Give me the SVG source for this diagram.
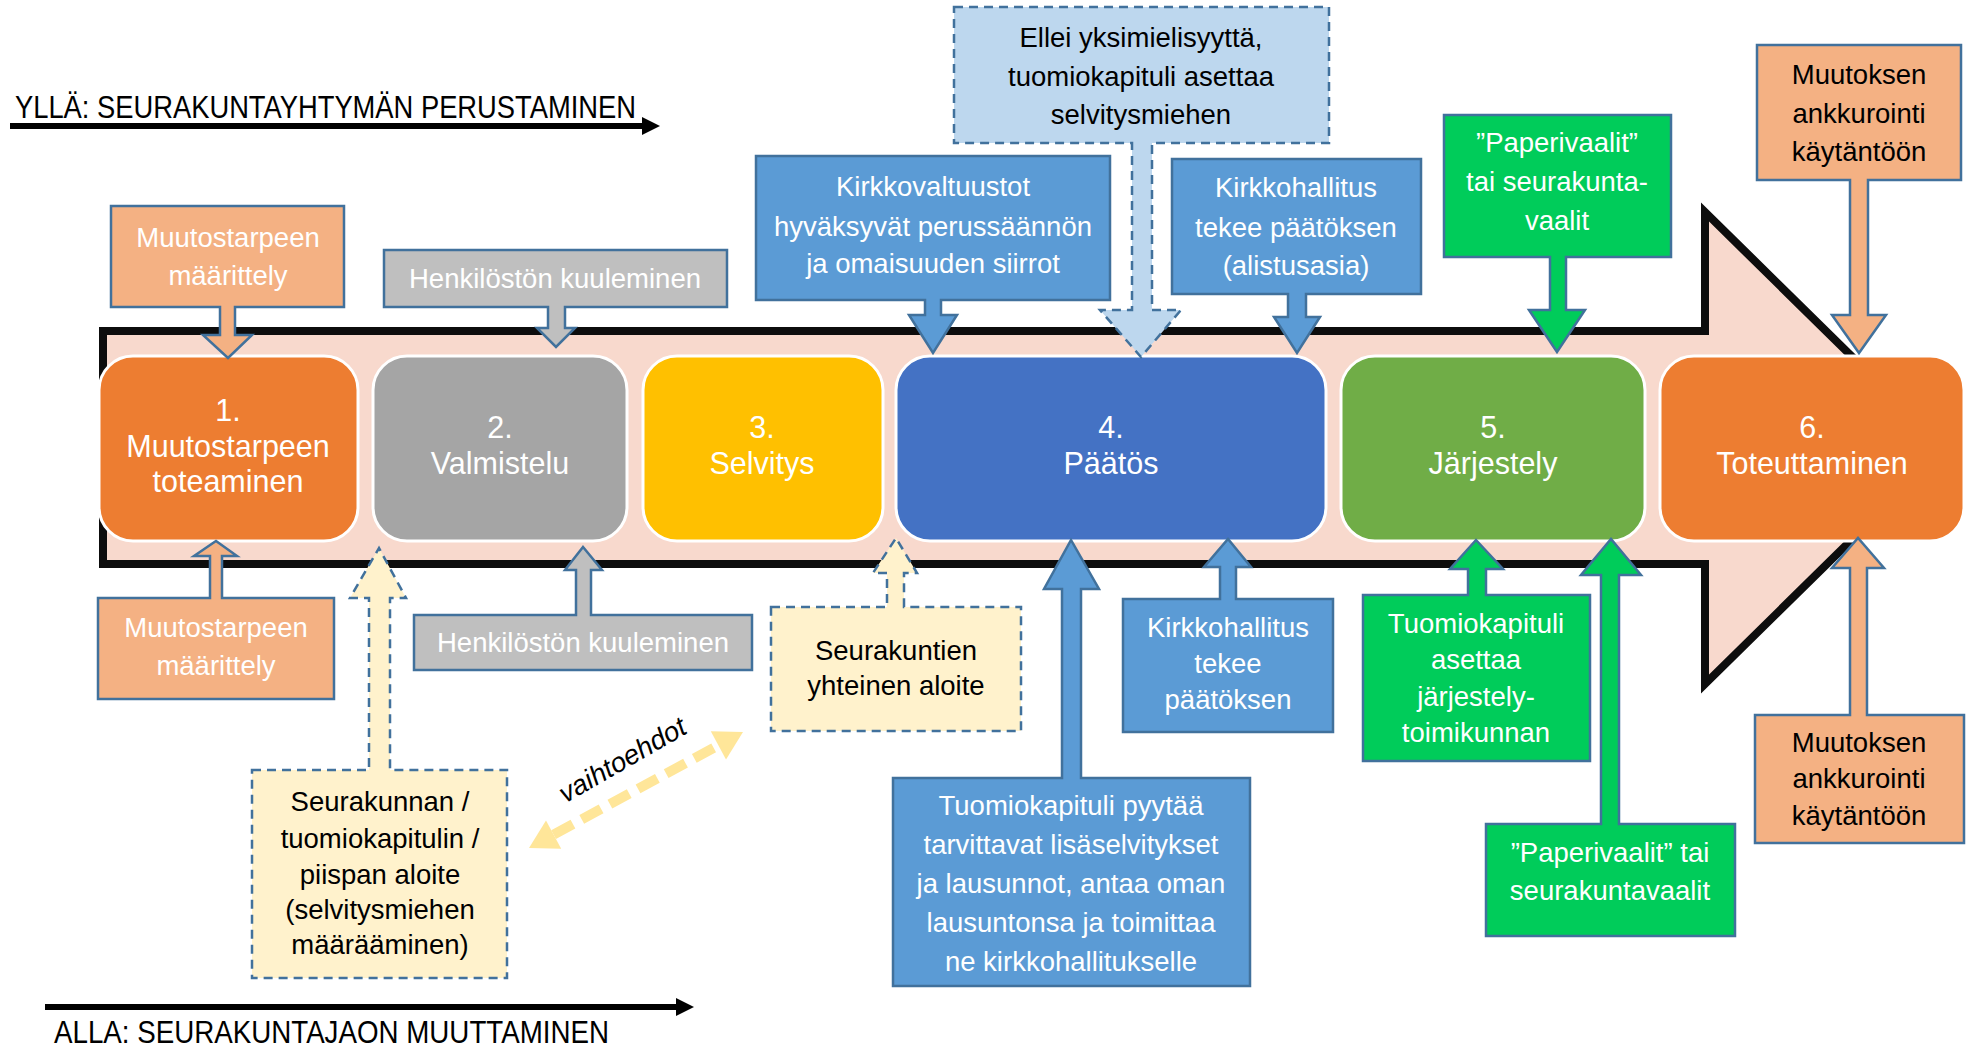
<svg xmlns="http://www.w3.org/2000/svg" width="1966" height="1050" viewBox="0 0 1966 1050">
<style>
.ph{stroke:#fff;stroke-width:3}
.co{stroke:#41719C;stroke-width:2.5}
.dsh{stroke-dasharray:9 6}
.t{font-family:"Liberation Sans",Arial,sans-serif;text-anchor:middle}
.w{fill:#fff}
.k{fill:#000}
.s{font-size:27.5px}
.p{font-size:30.5px}
.hd{font-family:"Liberation Sans",Arial,sans-serif;font-size:31px;fill:#000}
</style>
<rect width="1966" height="1050" fill="#fff"/>

<g id="process-arrow">
<path d="M103 331 H1705 V212 L1945 448 L1705 684 V564 H103 Z" fill="#F8D9CD" stroke="#0D0D0D" stroke-width="8"/>
</g>

<g id="connectors">
<line x1="10" y1="126" x2="644" y2="126" stroke="#000" stroke-width="6"/>
<polygon points="642,117 660,126 642,135" fill="#000"/>
<line x1="45" y1="1007" x2="678" y2="1007" stroke="#000" stroke-width="6"/>
<polygon points="676,998 694,1007 676,1016" fill="#000"/>
<line x1="553.6" y1="834.6" x2="718.4" y2="745.4" stroke="#FFE699" stroke-width="10" stroke-dasharray="22 10"/>
<polygon points="743,732 726,759.5 710.8,731.3" fill="#FFE699"/>
<polygon points="529,848 561.2,848.7 546,820.5" fill="#FFE699"/>
</g>

<g id="header-top"><text class="hd" x="15" y="118" textLength="621" lengthAdjust="spacingAndGlyphs">YLLÄ: SEURAKUNTAYHTYMÄN PERUSTAMINEN</text></g>
<g id="header-bottom"><text class="hd" x="54" y="1043" textLength="555" lengthAdjust="spacingAndGlyphs">ALLA: SEURAKUNTAJAON MUUTTAMINEN</text></g>
<g id="label-vaihtoehdot"><text class="t k" font-size="27.5" font-style="italic" transform="translate(627,768) rotate(-30)">vaihtoehdot</text></g>

<g id="phase1"><rect class="ph" x="99" y="356" width="259" height="185" rx="34" fill="#ED7D31"/>
<text class="t w p" x="228" y="421">1.</text><text class="t w p" x="228" y="457">Muutostarpeen</text><text class="t w p" x="228" y="492">toteaminen</text></g>
<g id="phase2"><rect class="ph" x="373" y="356" width="254" height="185" rx="34" fill="#A5A5A5"/>
<text class="t w p" x="500" y="438">2.</text><text class="t w p" x="500" y="474">Valmistelu</text></g>
<g id="phase3"><rect class="ph" x="643" y="356" width="240" height="185" rx="34" fill="#FFC000"/>
<text class="t w p" x="762" y="438">3.</text><text class="t w p" x="762" y="474">Selvitys</text></g>
<g id="phase4"><rect class="ph" x="896" y="356" width="430" height="185" rx="34" fill="#4472C4"/>
<text class="t w p" x="1111" y="438">4.</text><text class="t w p" x="1111" y="474">Päätös</text></g>
<g id="phase5"><rect class="ph" x="1341" y="356" width="304" height="185" rx="34" fill="#70AD47"/>
<text class="t w p" x="1493" y="438">5.</text><text class="t w p" x="1493" y="474">Järjestely</text></g>
<g id="phase6"><rect class="ph" x="1660" y="356" width="304" height="185" rx="34" fill="#ED7D31"/>
<text class="t w p" x="1812" y="438">6.</text><text class="t w p" x="1812" y="474">Toteuttaminen</text></g>

<g id="c-top-maarittely"><path class="co" fill="#F4B183" d="M111 206 H344 V307 H235 V335 H252 L228 358 L203 335 H220 V307 H111 Z"/>
<text class="t w s" x="228" y="247">Muutostarpeen</text><text class="t w s" x="228" y="285">määrittely</text></g>
<g id="c-top-kuuleminen"><path class="co" fill="#BFBFBF" d="M384 250 H727 V307 H565 V328 H575 L556 347 L537 328 H548 V307 H384 Z"/>
<text class="t w s" x="555" y="288">Henkilöstön kuuleminen</text></g>
<g id="c-top-selvitysmies"><path class="co dsh" fill="#BDD7EE" d="M954 7 H1329 V143 H1152 V310 H1181 L1141 357 L1100 310 H1132 V143 H954 Z"/>
<text class="t k s" x="1141" y="47">Ellei yksimielisyyttä,</text><text class="t k s" x="1141" y="86">tuomiokapituli asettaa</text><text class="t k s" x="1141" y="124">selvitysmiehen</text></g>
<g id="c-top-kirkkovaltuustot"><path class="co" fill="#5B9BD5" d="M756 156 H1110 V300 H941 V315 H957 L933 353 L909 315 H925 V300 H756 Z"/>
<text class="t w s" x="933" y="196">Kirkkovaltuustot</text><text class="t w s" x="933" y="236">hyväksyvät perussäännön</text><text class="t w s" x="933" y="273">ja omaisuuden siirrot</text></g>
<g id="c-top-kirkkohallitus"><path class="co" fill="#5B9BD5" d="M1172 159 H1421 V294 H1306 V317 H1320 L1297 353 L1274 317 H1288 V294 H1172 Z"/>
<text class="t w s" x="1296" y="197">Kirkkohallitus</text><text class="t w s" x="1296" y="237">tekee päätöksen</text><text class="t w s" x="1296" y="275">(alistusasia)</text></g>
<g id="c-top-paperivaalit"><path class="co" fill="#00CC5A" d="M1444 115 H1671 V257 H1566 V310 H1585 L1557 352 L1529 310 H1550 V257 H1444 Z"/>
<text class="t w s" x="1557" y="152">”Paperivaalit”</text><text class="t w s" x="1557" y="191">tai seurakunta-</text><text class="t w s" x="1557" y="230">vaalit</text></g>
<g id="c-top-ankkurointi"><path class="co" fill="#F4B183" d="M1757 45 H1961 V180 H1868 V315 H1886 L1859 353 L1832 315 H1850 V180 H1757 Z"/>
<text class="t k s" x="1859" y="84">Muutoksen</text><text class="t k s" x="1859" y="123">ankkurointi</text><text class="t k s" x="1859" y="161">käytäntöön</text></g>

<g id="c-bot-maarittely"><path class="co" fill="#F4B183" d="M98 598 H210 V556 H194 L216 541 L237 556 H222 V598 H334 V699 H98 Z"/>
<text class="t w s" x="216" y="637">Muutostarpeen</text><text class="t w s" x="216" y="675">määrittely</text></g>
<g id="c-bot-kuuleminen"><path class="co" fill="#BFBFBF" d="M414 615 H576 V570 H565 L583 547 L602 570 H591 V615 H752 V670 H414 Z"/>
<text class="t w s" x="583" y="652">Henkilöstön kuuleminen</text></g>
<g id="c-bot-aloite"><path class="co dsh" fill="#FFF2CC" d="M252 770 H369 V598 H350 L379 548 L406 598 H390 V770 H507 V978 H252 Z"/>
<text class="t k s" x="380" y="811">Seurakunnan /</text><text class="t k s" x="380" y="848">tuomiokapitulin /</text><text class="t k s" x="380" y="884">piispan aloite</text><text class="t k s" x="380" y="919">(selvitysmiehen</text><text class="t k s" x="380" y="954">määrääminen)</text></g>
<g id="c-bot-yhteinen"><path class="co dsh" fill="#FFF2CC" d="M771 607 H887 V573 H873 L896 538 L917 573 H904 V607 H1021 V731 H771 Z"/>
<text class="t k s" x="896" y="660">Seurakuntien</text><text class="t k s" x="896" y="695">yhteinen aloite</text></g>
<g id="c-bot-lisaselvitykset"><path class="co" fill="#5B9BD5" d="M893 778 H1062 V589 H1044 L1071 540 L1099 589 H1081 V778 H1250 V986 H893 Z"/>
<text class="t w s" x="1071" y="815">Tuomiokapituli pyytää</text><text class="t w s" x="1071" y="854">tarvittavat lisäselvitykset</text><text class="t w s" x="1071" y="893">ja lausunnot, antaa oman</text><text class="t w s" x="1071" y="932">lausuntonsa ja toimittaa</text><text class="t w s" x="1071" y="971">ne kirkkohallitukselle</text></g>
<g id="c-bot-kirkkohallitus"><path class="co" fill="#5B9BD5" d="M1123 599 H1220 V567 H1204 L1228 539 L1251 567 H1236 V599 H1333 V732 H1123 Z"/>
<text class="t w s" x="1228" y="637">Kirkkohallitus</text><text class="t w s" x="1228" y="673">tekee</text><text class="t w s" x="1228" y="709">päätöksen</text></g>
<g id="c-bot-toimikunta"><path class="co" fill="#00CC5A" d="M1363 595 H1468 V569 H1450 L1476 540 L1503 569 H1486 V595 H1590 V761 H1363 Z"/>
<text class="t w s" x="1476" y="633">Tuomiokapituli</text><text class="t w s" x="1476" y="669">asettaa</text><text class="t w s" x="1476" y="706">järjestely-</text><text class="t w s" x="1476" y="742">toimikunnan</text></g>
<g id="c-bot-paperivaalit"><path class="co" fill="#00CC5A" d="M1486 824 H1601 V575 H1581 L1611 539 L1641 575 H1619 V824 H1735 V936 H1486 Z"/>
<text class="t w s" x="1610" y="862">”Paperivaalit” tai</text><text class="t w s" x="1610" y="900">seurakuntavaalit</text></g>
<g id="c-bot-ankkurointi"><path class="co" fill="#F4B183" d="M1755 715 H1850 V568 H1832 L1858 538 L1884 568 H1867 V715 H1964 V843 H1755 Z"/>
<text class="t k s" x="1859" y="752">Muutoksen</text><text class="t k s" x="1859" y="788">ankkurointi</text><text class="t k s" x="1859" y="825">käytäntöön</text></g>
</svg>
